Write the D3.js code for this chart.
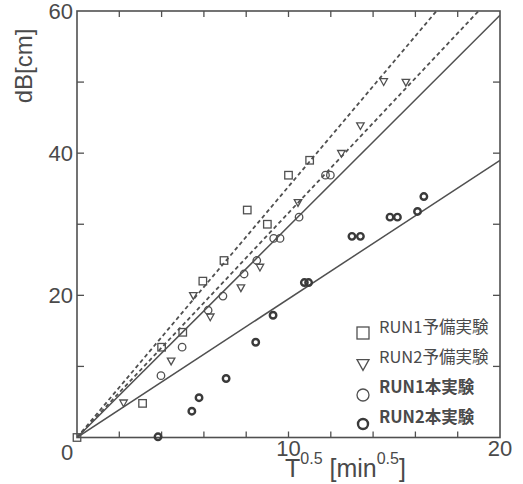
<!DOCTYPE html>
<html lang="ja">
<head>
<meta charset="UTF-8">
<title>dB vs T^0.5</title>
<script src="https://d3js.org/d3.v7.min.js"></script>
<style>
  body { margin: 0; background: #fff; }
  svg { display: block; }
  text { font-family: "Liberation Sans", Arial, sans-serif; fill: #4a4a4a; }
  .legend text { font-family: "Noto Sans CJK JP", sans-serif; font-size: 16.5px; }
</style>
</head>
<body>
<svg id="chart"></svg>
<script>
// RUN1 予備実験 (squares)
const run1PreX = [0, 3.1, 4.0, 5.0, 5.95, 6.95, 8.05, 9.0, 10.0, 11.0];
const run1PreY = [0, 4.8, 12.7, 14.8, 22.0, 24.9, 32.0, 30.0, 36.9, 39.0];
// RUN2 予備実験 (triangles)
const run2PreX = [2.2, 4.45, 5.5, 6.3, 7.75, 8.65, 10.45, 12.5, 13.4, 14.5, 15.55];
const run2PreY = [4.8, 10.7, 19.9, 16.9, 21.0, 23.9, 33.0, 39.9, 43.8, 50.0, 49.9];
// RUN1 本実験 (open circles)
const run1MainX = [3.97, 4.97, 6.2, 6.9, 7.9, 8.5, 9.3, 9.6, 10.5, 11.75, 11.98];
const run1MainY = [8.7, 12.7, 17.9, 19.9, 23.0, 24.9, 28.0, 28.0, 31.0, 36.9, 36.9];
// RUN2 本実験 (thick circles)
const run2MainX = [3.83, 5.43, 5.77, 7.05, 8.45, 9.27, 10.75, 10.95, 13.0, 13.4, 14.8, 15.15, 16.1, 16.4];
const run2MainY = [0.1, 3.7, 5.6, 8.3, 13.4, 17.2, 21.8, 21.8, 28.3, 28.3, 31.0, 31.0, 31.8, 33.9];

// fitted lines through the origin: dB = slope * T^0.5
const fitSlopes = [3.53, 3.16, 2.97, 1.95];
const fitDashed = [true, true, false, false];

const legendLabels = ["RUN1予備実験", "RUN2予備実験", "RUN1本実験", "RUN2本実験"];
const xTickLabels = [10, 20];
const yTickLabels = [20, 40, 60];

const W = 523, H = 484;
const svg = d3.select("#chart").attr("width", W).attr("height", H);

const x = d3.scaleLinear().domain([0, 20]).range([77, 500]);
const y = d3.scaleLinear().domain([0, 60]).range([437.5, 11]);

const ink = "#505050";

// frame
svg.append("rect")
    .attr("x", x(0)).attr("y", y(60))
    .attr("width", x(20) - x(0)).attr("height", y(0) - y(60))
    .attr("fill", "none").attr("stroke", ink).attr("stroke-width", 1.6);

// inward ticks on all four sides
const xTicks = d3.range(2, 20, 2);
const yTicks = d3.range(10, 60, 10);
const tickG = svg.append("g").attr("stroke", ink).attr("stroke-width", 1.3);
xTicks.forEach(v => {
    tickG.append("line").attr("x1", x(v)).attr("x2", x(v)).attr("y1", y(0)).attr("y2", y(0) - 6);
    tickG.append("line").attr("x1", x(v)).attr("x2", x(v)).attr("y1", y(60)).attr("y2", y(60) + 6);
});
yTicks.forEach(v => {
    tickG.append("line").attr("x1", x(0)).attr("x2", x(0) + 7).attr("y1", y(v)).attr("y2", y(v));
    tickG.append("line").attr("x1", x(20)).attr("x2", x(20) - 7).attr("y1", y(v)).attr("y2", y(v));
});

// tick labels
svg.selectAll("text.ylab").data(yTickLabels).enter().append("text")
    .attr("class", "ylab")
    .attr("x", x(0) - 4).attr("y", d => y(d))
    .attr("dy", "0.36em")
    .attr("text-anchor", "end")
    .style("font-size", "22px")
    .text(d => d);
svg.append("text")
    .attr("x", x(0) - 10).attr("y", 460)
    .attr("text-anchor", "middle")
    .style("font-size", "22px")
    .text("0");
svg.selectAll("text.xlab").data(xTickLabels).enter().append("text")
    .attr("class", "xlab")
    .attr("x", d => x(d)).attr("y", 456)
    .attr("text-anchor", "middle")
    .style("font-size", "22px")
    .text(d => d);

// axis titles
svg.append("text")
    .attr("transform", "translate(32,66) rotate(-90)")
    .attr("text-anchor", "middle")
    .style("font-size", "24px")
    .text("dB[cm]");

const xt = svg.append("text").attr("x", 285).attr("y", 477).style("font-size", "25px");
xt.append("tspan").text("T");
xt.append("tspan").attr("dy", -13).style("font-size", "16px").text("0.5");
xt.append("tspan").attr("dy", 13).text(" [min");
xt.append("tspan").attr("dy", -13).style("font-size", "16px").text("0.5");
xt.append("tspan").attr("dy", 13).text("]");

// fit lines, clipped at the frame
svg.append("clipPath").attr("id", "plotclip").append("rect")
    .attr("x", x(0)).attr("y", y(60)).attr("width", x(20) - x(0)).attr("height", y(0) - y(60));
const lines = svg.append("g").attr("clip-path", "url(#plotclip)");
fitSlopes.forEach((s, i) => {
    const xEnd = Math.min(20, 60 / s);
    lines.append("line")
        .attr("x1", x(0)).attr("y1", y(0))
        .attr("x2", x(xEnd)).attr("y2", y(s * xEnd))
        .attr("stroke", ink)
        .attr("stroke-width", fitDashed[i] ? 1.8 : 1.5)
        .attr("stroke-dasharray", fitDashed[i] ? "4,3" : null);
});

// marker shapes
function drawMarker(g, kind, cx, cy, size) {
    if (kind === 0) {
        g.append("rect")
            .attr("x", cx - size / 2).attr("y", cy - size / 2)
            .attr("width", size).attr("height", size)
            .attr("fill", "none").attr("stroke", ink).attr("stroke-width", 1.3);
    } else if (kind === 1) {
        const h = size * 0.9;
        g.append("path")
            .attr("d", `M${cx - size / 2},${cy - h / 2} L${cx + size / 2},${cy - h / 2} L${cx},${cy + h / 2} Z`)
            .attr("fill", "none").attr("stroke", ink).attr("stroke-width", 1.3);
    } else if (kind === 2) {
        g.append("circle").attr("cx", cx).attr("cy", cy).attr("r", size / 2)
            .attr("fill", "none").attr("stroke", ink).attr("stroke-width", 1.3);
    } else {
        g.append("circle").attr("cx", cx).attr("cy", cy).attr("r", size / 2 - 0.5)
            .attr("fill", "none").attr("stroke", "#3a3a3a").attr("stroke-width", 2.4);
    }
}

const series = [
    [run1PreX, run1PreY],
    [run2PreX, run2PreY],
    [run1MainX, run1MainY],
    [run2MainX, run2MainY]
];
const pts = svg.append("g");
series.forEach((s, k) => {
    s[0].forEach((xv, i) => drawMarker(pts, k, x(xv), y(s[1][i]), 7.5));
});

// legend
const legend = svg.append("g").attr("class", "legend");
const legTextY = [327, 357, 387, 417];
const legMarkY = [333, 365, 395, 424];
legendLabels.forEach((lab, i) => {
    drawMarker(legend, i, 363, legMarkY[i], i === 3 ? 11 : 12);
    legend.append("text")
        .attr("x", 379).attr("y", legTextY[i])
        .attr("dy", "0.36em")
        .style("font-weight", i >= 2 ? "bold" : "normal")
        .text(lab);
});
</script>
</body>
</html>
